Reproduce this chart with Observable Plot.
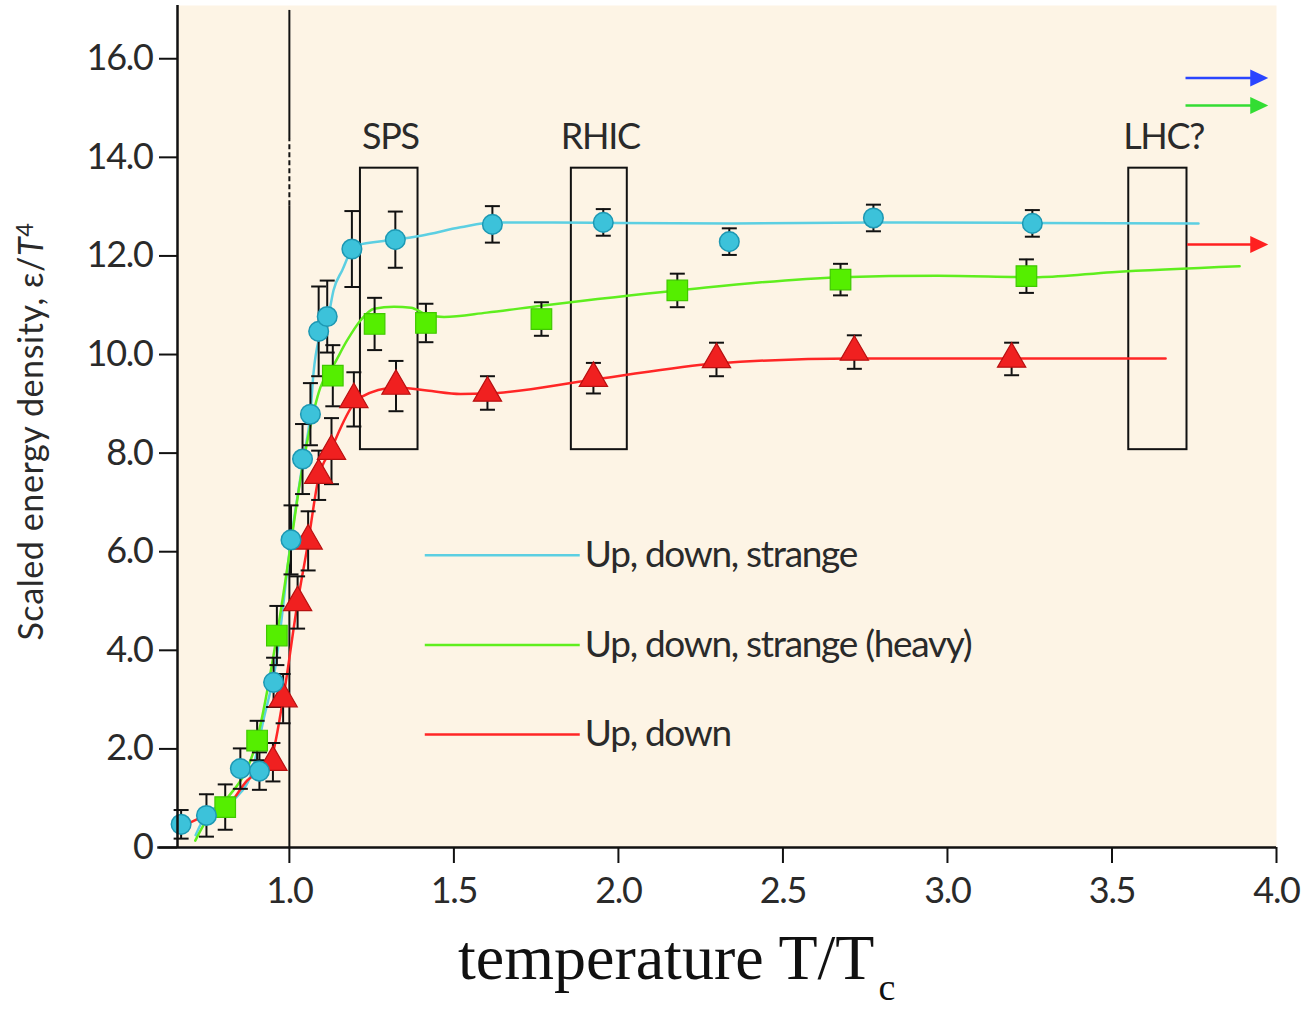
<!DOCTYPE html>
<html>
<head>
<meta charset="utf-8">
<script src="https://cdn.jsdelivr.net/npm/d3@7"></script>
<script src="https://cdn.jsdelivr.net/npm/@observablehq/plot@0.6"></script>
<style>
  html, body { margin: 0; padding: 0; background: #ffffff; }
  #wrap { position: relative; width: 1302px; height: 1009px; overflow: hidden; }
  #xlabel { position: absolute; left: 458px; top: 926px; font-family: "Liberation Serif", "Times New Roman", serif;
            font-size: 64px; line-height: 64px; color: #111; white-space: nowrap; }
  #xlabel .sub { font-size: 38px; line-height: 38px; position: relative; top: 21px; margin-left: 4px; }
</style>
</head>
<body>
<div id="wrap"><div id="chart"></div><div id="xlabel">temperature T/T<span class="sub">c</span></div></div>
<script>
// ---------- data ----------
const cyanX   = [0.671, 0.748, 0.851, 0.909, 0.952, 1.005, 1.040, 1.064, 1.089, 1.115, 1.190, 1.322, 1.617, 1.954, 2.337, 2.775, 3.258];
const cyanY   = [0.47, 0.65, 1.60, 1.55, 3.35, 6.24, 7.88, 8.79, 10.47, 10.77, 12.14, 12.33, 12.64, 12.68, 12.29, 12.77, 12.66];
const cyanErr = [0.29, 0.43, 0.41, 0.38, 0.50, 0.70, 0.71, 0.63, 0.91, 0.73, 0.77, 0.57, 0.37, 0.27, 0.27, 0.27, 0.27];

const greenX   = [0.805, 0.902, 0.962, 1.132, 1.259, 1.415, 1.766, 2.179, 2.675, 3.240];
const greenY   = [0.82, 2.17, 4.30, 9.57, 10.62, 10.64, 10.72, 11.30, 11.52, 11.59];
const greenErr = [0.46, 0.40, 0.60, 0.62, 0.53, 0.39, 0.34, 0.34, 0.32, 0.34];

const redX   = [0.950, 0.981, 1.025, 1.057, 1.089, 1.128, 1.196, 1.324, 1.602, 1.924, 2.298, 2.717, 3.195];
const redY   = [1.73, 3.02, 4.97, 6.22, 7.55, 8.04, 9.09, 9.36, 9.22, 9.52, 9.90, 10.05, 9.91];
const redErr = [0.39, 0.50, 0.53, 0.60, 0.50, 0.67, 0.55, 0.51, 0.34, 0.31, 0.34, 0.34, 0.33];

const cyanCurveX = [0.715, 0.750, 0.839, 0.890, 0.921, 0.957, 1.005, 1.043, 1.064, 1.073, 1.094, 1.120, 1.134, 1.160, 1.200, 1.320, 1.400, 1.520, 1.620, 1.800, 2.000, 2.340, 2.780, 3.260, 3.763];
const cyanCurveY = [0.25, 0.69, 1.02, 1.62, 2.58, 3.65, 6.24, 7.90, 8.80, 9.60, 10.43, 10.83, 11.30, 11.70, 12.21, 12.33, 12.41, 12.58, 12.68, 12.68, 12.67, 12.66, 12.68, 12.67, 12.66];

const greenCurveX = [0.714, 0.748, 0.805, 0.902, 0.962, 1.000, 1.033, 1.059, 1.094, 1.134, 1.175, 1.216, 1.257, 1.318, 1.370, 1.410, 1.470, 1.600, 1.766, 2.180, 2.675, 2.970, 3.277, 3.500, 3.888];
const greenCurveY = [0.14, 0.55, 0.95, 2.20, 4.30, 5.95, 7.44, 8.39, 9.33, 9.78, 10.28, 10.69, 10.93, 10.97, 10.95, 10.83, 10.76, 10.85, 10.99, 11.30, 11.57, 11.60, 11.57, 11.67, 11.79];

const redCurveX = [0.690, 0.748, 0.805, 0.872, 0.942, 0.981, 1.025, 1.057, 1.089, 1.125, 1.196, 1.216, 1.324, 1.418, 1.520, 1.602, 1.924, 2.298, 2.717, 3.290, 3.663];
const redCurveY = [0.48, 0.65, 0.79, 1.36, 1.76, 3.02, 4.97, 6.19, 7.51, 8.05, 9.00, 9.13, 9.33, 9.27, 9.20, 9.21, 9.49, 9.82, 9.92, 9.92, 9.92];

const boxNames  = ["SPS", "RHIC", "LHC?"];
const boxX1     = [1.216, 1.857, 3.551];
const boxX2     = [1.391, 2.027, 3.728];
const boxLabelX = [1.307, 1.945, 3.657];
const boxY1 = 8.07, boxY2 = 13.78, boxLabelY = 14.41;

const arrowY  = [15.61, 15.05, 12.23];
const arrowX1 = [3.725, 3.725, 3.730];
const arrowX2 = 3.975;

const legendLabels = ["Up, down, strange", "Up, down, strange (heavy)", "Up, down"];

const xTicks = [1.0, 1.5, 2.0, 2.5, 3.0, 3.5, 4.0];
const yTicks = [0, 2, 4, 6, 8, 10, 12, 14, 16];
const yLabelParts = ["Scaled energy density, ε/", "T", "4"];

// ---------- styles ----------
const C_CYAN = "#3cc2da", C_CYAN_S = "#1d98b3", C_CYAN_L = "#5ccfe2";
const C_GREEN = "#55ee00", C_GREEN_S = "#40c800", C_GREEN_L = "#5fee1e";
const C_RED = "#f02020", C_RED_S = "#b81010", C_RED_L = "#ff2626";
const seriesColors = [C_CYAN_L, C_GREEN_L, C_RED_L];
const arrowColors = ["#2a45ff", "#33dd33", "#ff2020"];

const toPts = (xs, ys, es) => xs.map((x, i) => ({x, y: ys[i], e: es ? es[i] : 0}));
const cyanPts = toPts(cyanX, cyanY, cyanErr);
const greenPts = toPts(greenX, greenY, greenErr);
const redPts = toPts(redX, redY, redErr);
const allPts = [...redPts, ...greenPts, ...cyanPts];
const caps = allPts.flatMap(d => [{x: d.x, y: d.y - d.e}, {x: d.x, y: d.y + d.e}]);
const curves = [
  {pts: toPts(cyanCurveX, cyanCurveY), color: C_CYAN_L},
  {pts: toPts(greenCurveX, greenCurveY), color: C_GREEN_L},
  {pts: toPts(redCurveX, redCurveY), color: C_RED_L}
];
const boxes = boxNames.map((name, i) => ({name, x1: boxX1[i], x2: boxX2[i], lx: boxLabelX[i]}));
const arrows = arrowY.map((y, i) => ({y, x1: arrowX1[i], color: arrowColors[i]}));
const legend = legendLabels.map((label, i) => ({label, color: seriesColors[i], y: 5.93 - i * 1.82}));

const capSymbol = {draw(ctx) { ctx.moveTo(-7.5, 0); ctx.lineTo(7.5, 0); }};
const headSymbol = {draw(ctx) { ctx.moveTo(0, 0); ctx.lineTo(-18, -8.5); ctx.lineTo(-18, 8.5); ctx.closePath(); }};

const plot = Plot.plot({
  width: 1302, height: 915,
  marginTop: 5, marginBottom: 68, marginLeft: 177, marginRight: 26,
  x: {domain: [0.66, 4.0]},
  y: {domain: [0, 17.08]},
  style: {fontFamily: "Lato, 'Open Sans', sans-serif", letterSpacing: "-1.3px", color: "#2a2a2a", background: "transparent", overflow: "visible"},
  marks: [
    Plot.frame({fill: "#fdf4e5", stroke: "none"}),
    // vertical line at T = Tc
    Plot.ruleX([{y1: 0, y2: 13.02}, {y1: 14.38, y2: 16.98}], {x: () => 1.0, y1: "y1", y2: "y2", stroke: "#111", strokeWidth: 2}),
    Plot.ruleX([{y1: 13.02, y2: 14.38}], {x: () => 1.0, y1: "y1", y2: "y2", stroke: "#111", strokeWidth: 2, strokeDasharray: "5,3"}),
    // boxes
    Plot.rect(boxes, {x1: "x1", x2: "x2", y1: () => boxY1, y2: () => boxY2, fill: "none", stroke: "#111", strokeWidth: 2}),
    Plot.text(boxes, {x: "lx", y: () => boxLabelY, text: "name", fontSize: 36, fill: "#2a2a2a"}),
    // curves
    ...curves.map(c => Plot.line(c.pts, {x: "x", y: "y", stroke: c.color, strokeWidth: 2.5, curve: "monotone-x"})),
    // error bars
    Plot.ruleX(allPts, {x: "x", y1: d => d.y - d.e, y2: d => d.y + d.e, stroke: "#111", strokeWidth: 2}),
    Plot.dot(caps, {x: "x", y: "y", symbol: capSymbol, r: 5, fill: "none", stroke: "#111", strokeWidth: 2}),
    // markers
    Plot.dot(redPts, {x: "x", y: "y", symbol: "triangle", r: 10.5, fill: C_RED, stroke: C_RED_S, strokeWidth: 1.2}),
    Plot.dot(greenPts, {x: "x", y: "y", symbol: "square", r: 11.6, fill: C_GREEN, stroke: C_GREEN_S, strokeWidth: 1.2}),
    Plot.dot(cyanPts, {x: "x", y: "y", r: 9.8, fill: C_CYAN, stroke: C_CYAN_S, strokeWidth: 1.5}),
    // arrows
    Plot.ruleY(arrows, {y: "y", x1: "x1", x2: () => arrowX2 - 0.03, stroke: "color", strokeWidth: 2.5}),
    Plot.dot(arrows, {x: () => arrowX2, y: "y", symbol: headSymbol, r: 5, fill: "color", stroke: "none"}),
    // legend
    Plot.ruleY(legend, {y: "y", x1: () => 1.413, x2: () => 1.884, stroke: "color", strokeWidth: 2.5}),
    Plot.text(legend, {x: () => 1.898, y: "y", text: "label", textAnchor: "start", fontSize: 37, fill: "#2a2a2a"}),
    // axes
    Plot.ruleX([0.66], {y1: 0, y2: 17.08, stroke: "#111", strokeWidth: 2.5}),
    Plot.ruleY([0], {x1: 0.60, x2: 4.0, stroke: "#111", strokeWidth: 2.5}),
    Plot.axisY(yTicks, {tickSize: 18, tickPadding: 7, tickFormat: d => d === 0 ? "0" : d.toFixed(1), fontSize: 36, label: null, stroke: "#111", strokeWidth: 2}),
    Plot.axisX(xTicks, {tickSize: 16, tickPadding: 14, tickFormat: d => d.toFixed(1), fontSize: 36, label: null, stroke: "#111", strokeWidth: 2}),
    // y-axis title
    Plot.text([yLabelParts.join("")], {frameAnchor: "left", textAnchor: "middle", rotate: -90, dx: -145, dy: 5, fontSize: 34, fill: "#2a2a2a"})
  ]
});

document.getElementById("chart").appendChild(plot);

// italic T and superscript 4 in the y title
d3.select(plot).selectAll("text").filter(function () { return this.textContent === yLabelParts.join(""); })
  .each(function () {
    const t = d3.select(this);
    t.text(null).style("letter-spacing", "0.6px");
    t.append("tspan").text(yLabelParts[0]);
    t.append("tspan").attr("font-style", "italic").text(yLabelParts[1]);
    t.append("tspan").attr("dy", "-0.45em").attr("font-size", "0.7em").text(yLabelParts[2]);
  });
</script>
</body>
</html>
